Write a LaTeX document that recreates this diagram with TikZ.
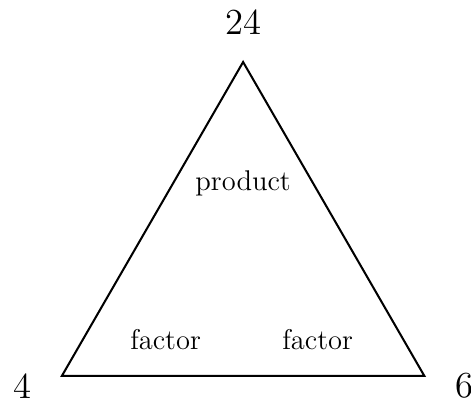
\documentclass[tikz,border=0pt]{standalone}
\usetikzlibrary{positioning}
\tikzset{num/.style={font=\Large}, word/.style={font=\fontsize{11.2}{13}\selectfont}, edge/.style={line width=.8pt}}
\begin{document}
\begin{tikzpicture}
\useasboundingbox (-0.855,-0.414) rectangle (5.645,5.186);
\coordinate (left) at (0,0); \coordinate (right) at (5,0); \coordinate (top) at (2.5,4.33);
\draw[edge] (left) -- (right) -- (top) -- cycle;
\node[num] (ntop) at (2.5,4.88) {24};
\node[num] (nleft) at (-0.55,-0.14) {4};
\node[num] (nright) at (5.56,-0.14) {6};
\node[word] (prod) at (2.5,2.66) {product};
\node[word] (fleft) at (1.43,0.5) {factor};
\node[word] (fright) at (3.53,0.5) {factor};
\end{tikzpicture}
\end{document}
